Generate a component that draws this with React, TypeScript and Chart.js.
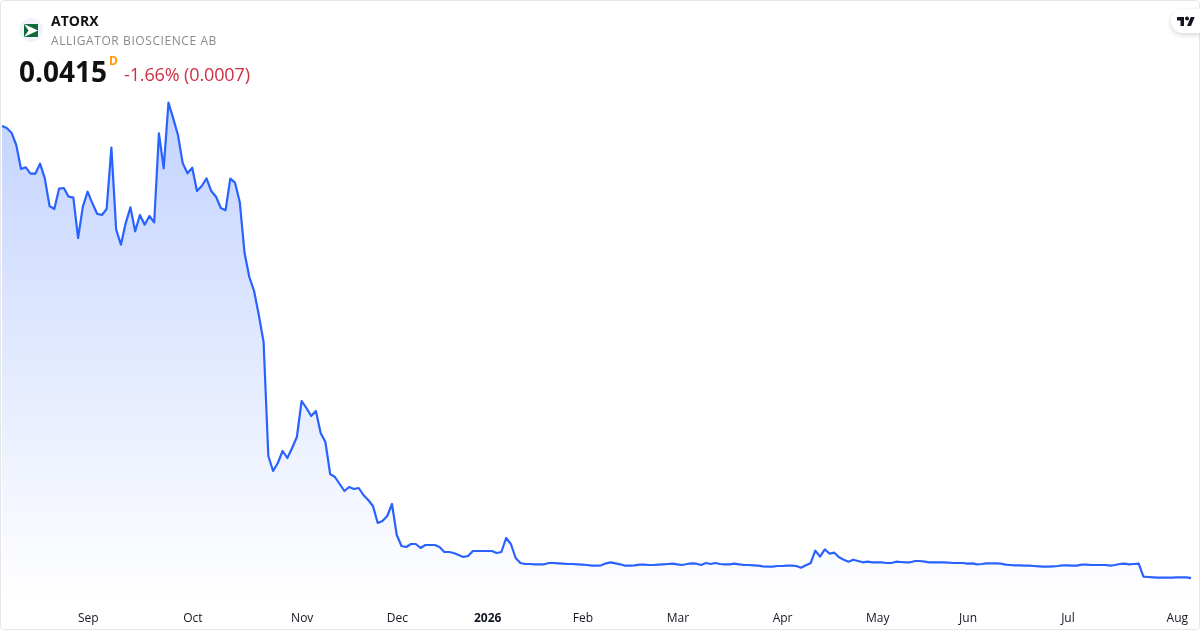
import React, { useEffect, useRef } from "react";
import { Chart, registerables } from "chart.js";

Chart.register(...registerables);

const symbol = "ATORX";
const companyName = "ALLIGATOR BIOSCIENCE AB";
const lastPrice = "0.0415";
const intervalBadge = "D";
const changeText = "-1.66% (0.0007)";

const prices: number[] = [
  0.7648, 0.7616, 0.7541, 0.7344, 0.696, 0.6987, 0.6885, 0.6885, 0.7045, 0.6811,
  0.6368, 0.632, 0.6645, 0.6656, 0.6517, 0.6501, 0.5856, 0.6357, 0.6597, 0.6411,
  0.6245, 0.6224, 0.632, 0.7301, 0.5995, 0.5749, 0.6091, 0.6347, 0.5963, 0.6224,
  0.6069, 0.6208, 0.6107, 0.7531, 0.6971, 0.8021, 0.7771, 0.7504, 0.7051, 0.6891,
  0.6981, 0.6608, 0.6688, 0.6811, 0.6608, 0.6517, 0.6336, 0.6299, 0.6805, 0.6741,
  0.6427, 0.5616, 0.5232, 0.5008, 0.4624, 0.4192, 0.2368, 0.2128, 0.2256, 0.2448,
  0.2336, 0.2496, 0.2672, 0.3248, 0.3136, 0.3008, 0.3088, 0.2736, 0.2592, 0.208,
  0.2032, 0.192, 0.1808, 0.1872, 0.184, 0.1856, 0.1744, 0.1664, 0.1568, 0.1296,
  0.1328, 0.1408, 0.16, 0.1104, 0.0928, 0.0912, 0.096, 0.096, 0.0896, 0.0944,
  0.0944, 0.0944, 0.0912, 0.0832, 0.0832, 0.0816, 0.0784, 0.0752, 0.0768, 0.0848,
  0.0848, 0.0848, 0.0848, 0.0848, 0.0816, 0.0832, 0.1056, 0.096, 0.0736, 0.0656,
  0.064, 0.064, 0.0635, 0.0635, 0.0635, 0.0656, 0.0656, 0.0651, 0.0645, 0.064,
  0.064, 0.0635, 0.0629, 0.0624, 0.0613, 0.0613, 0.0619, 0.0651, 0.0667, 0.0651,
  0.0635, 0.0613, 0.0613, 0.0619, 0.0629, 0.0629, 0.0624, 0.0624, 0.0629, 0.0635,
  0.064, 0.0645, 0.0635, 0.0624, 0.064, 0.0651, 0.0645, 0.0624, 0.0656, 0.064,
  0.0656, 0.064, 0.0635, 0.0635, 0.0645, 0.0635, 0.0624, 0.0624, 0.0619, 0.0613,
  0.0603, 0.0597, 0.0597, 0.0608, 0.0608, 0.0613, 0.0613, 0.0608, 0.0581, 0.0619,
  0.0651, 0.0853, 0.0757, 0.0875, 0.0805, 0.0821, 0.0747, 0.0709, 0.0677, 0.0709,
  0.0688, 0.0667, 0.0677, 0.0667, 0.0667, 0.0667, 0.0656, 0.0656, 0.0677, 0.0672,
  0.0667, 0.0667, 0.0688, 0.0688, 0.0677, 0.0667, 0.0667, 0.0667, 0.0667, 0.0661,
  0.0656, 0.0656, 0.0656, 0.0645, 0.0651, 0.0635, 0.064, 0.0651, 0.0651, 0.0651,
  0.0645, 0.0629, 0.0624, 0.0619, 0.0619, 0.0613, 0.0613, 0.0608, 0.0603, 0.0597,
  0.0597, 0.0603, 0.0608, 0.0619, 0.0619, 0.0613, 0.0613, 0.0629, 0.0629, 0.0624,
  0.0624, 0.0624, 0.0624, 0.0613, 0.0624, 0.064, 0.0645, 0.0635, 0.064, 0.0645,
  0.0437, 0.0432, 0.0427, 0.0421, 0.0421, 0.0421, 0.0421, 0.0427, 0.0427, 0.0427,
  0.0415,
];

const tickNames = ["Sep", "Oct", "Nov", "Dec", "2026", "Feb", "Mar", "Apr", "May", "Jun", "Jul", "Aug"];
const tickIndexes = [18, 40, 63, 83, 102, 122, 142, 164, 184, 203, 224, 247];

const categories: string[] = prices.map((_, i) => {
  const at = tickIndexes.indexOf(i);
  return at >= 0 ? tickNames[at] : "";
});

const FONT = '"Open Sans", "Noto Sans", sans-serif';

export default function App() {
  const ref = useRef<HTMLCanvasElement>(null);

  useEffect(() => {
    document.body.style.margin = "0";
    const canvas = ref.current;
    if (!canvas) return;
    const chart = new Chart(canvas, {
      type: "line",
      data: {
        labels: categories,
        datasets: [
          {
            data: prices,
            borderColor: "#2962ff",
            borderWidth: 2.2,
            borderJoinStyle: "round",
            pointRadius: 0,
            tension: 0,
            fill: "start",
            clip: false,
            backgroundColor: (ctx: any) => {
              const { chart: c } = ctx;
              if (!c.chartArea) return "rgba(41,98,255,0.28)";
              const top = c.scales.y.getPixelForValue(Math.max(...prices));
              const g = c.ctx.createLinearGradient(0, top, 0, c.chartArea.bottom);
              g.addColorStop(0, "rgba(41,98,255,0.28)");
              g.addColorStop(1, "rgba(41,98,255,0)");
              return g;
            },
          },
        ],
      },
      options: {
        responsive: false,
        animation: false,
        layout: { padding: { left: 2, right: 9, top: 0, bottom: 0 } },
        plugins: { legend: { display: false }, tooltip: { enabled: false } },
        scales: {
          x: {
            type: "category",
            offset: false,
            afterFit: (s: any) => {
              s.height = 30;
              s.paddingLeft = 0;
              s.paddingRight = 0;
            },
            grid: { display: false, drawTicks: false },
            border: { display: false },
            ticks: {
              autoSkip: false,
              maxRotation: 0,
              minRotation: 0,
              padding: 11,
              labelOffset: 0.6,
              color: "#131722",
              font: (ctx: any) => ({
                family: FONT,
                size: 12,
                weight: ctx.tick && ctx.tick.label === "2026" ? "bold" : "normal",
              }),
            },
          },
          y: {
            display: false,
            min: 0.0064,
            max: 0.9664,
          },
        },
      } as any,
    });
    return () => chart.destroy();
  }, []);

  return (
    <div style={{ position: "fixed", left: 0, top: 0, width: 1200, height: 630, background: "#fff", overflow: "hidden", fontFamily: FONT }}>
      <canvas ref={ref} width={1200} height={630} style={{ position: "absolute", left: 0, top: 0, display: "block" }} />
      <div style={{ position: "absolute", inset: 0, boxSizing: "border-box", border: "1px solid #e6e6e6", borderRadius: 4, pointerEvents: "none" }} />

      <svg width="24" height="24" viewBox="0 0 24 24" style={{ position: "absolute", left: 19, top: 18 }}>
        <circle cx="12" cy="12" r="12" fill="#f0f3fa" />
        <rect x="5" y="6" width="14" height="13" fill="#0f6a3c" />
        <path d="M5 6 L19 12.5 L5 19 L9.5 12.5 Z" fill="#fff" />
        <path d="M5 6 L9 6 L19 12 L19 6 Z" fill="#0f6a3c" />
      </svg>

      <div style={{ position: "absolute", left: 51, top: 12, fontSize: 14, lineHeight: "18px", fontWeight: 700, color: "#111" }}>{symbol}</div>
      <div style={{ position: "absolute", left: 51, top: 32, fontSize: 12, lineHeight: "18px", letterSpacing: "0.58px", color: "#8a8a8a", whiteSpace: "nowrap" }}>{companyName}</div>
      <div style={{ position: "absolute", left: 19, top: 52, fontSize: 28, lineHeight: "38px", fontWeight: 700, color: "#111" }}>{lastPrice}</div>
      <div style={{ position: "absolute", left: 109, top: 53, fontSize: 12, lineHeight: "16px", fontWeight: 700, color: "#ff9800" }}>{intervalBadge}</div>
      <div style={{ position: "absolute", left: 124, top: 61, fontSize: 18, lineHeight: "26px", letterSpacing: "-0.13px", color: "#cf2f42", whiteSpace: "nowrap" }}>{changeText}</div>

      <div style={{ position: "absolute", left: 1171, top: 9, width: 29, height: 24, background: "#fff", borderRadius: "12px 0 0 12px", boxShadow: "0 2px 5px rgba(0,0,0,0.16)" }}>
        <svg width="18" height="14" viewBox="0 0 36 28" style={{ position: "absolute", left: 6, top: 6 }}>
          <path d="M14 22H7V11H0V4h14v18zM28 22h-8l7.5-18h8L28 22z" fill="#131722" />
          <circle cx="20" cy="7" r="4" fill="#131722" />
        </svg>
      </div>
    </div>
  );
}
